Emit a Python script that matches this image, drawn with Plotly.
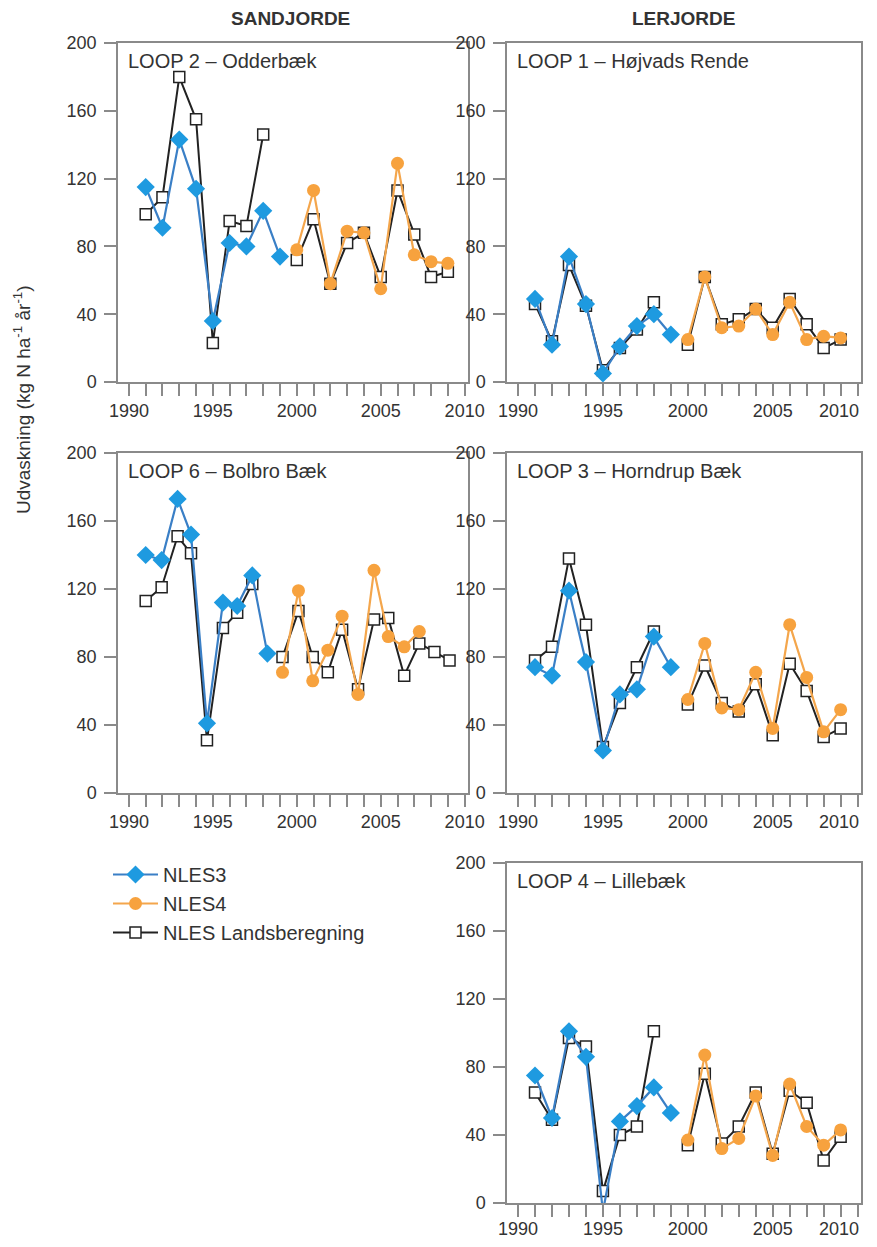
import plotly.graph_objects as go

# ---------------- data ----------------
years_nles3 = [1991, 1992, 1993, 1994, 1995, 1996, 1997, 1998, 1999]
years_nles4 = [2000, 2001, 2002, 2003, 2004, 2005, 2006, 2007, 2008, 2009]
years_lands = [1991, 1992, 1993, 1994, 1995, 1996, 1997, 1998, None,
               2000, 2001, 2002, 2003, 2004, 2005, 2006, 2007, 2008, 2009]

# Bolbro Bæk is drawn on a slightly compressed year spacing in the original
bolbro_x_nles3 = [1991.0, 1991.95, 1992.9, 1993.7, 1994.65, 1995.6, 1996.45, 1997.35, 1998.25]
bolbro_x_nles4 = [1999.15, 2000.1, 2000.95, 2001.85, 2002.7, 2003.65, 2004.6, 2005.45, 2006.4, 2007.3]
bolbro_x_lands = [1991.0, 1991.95, 1992.9, 1993.7, 1994.65, 1995.6, 1996.45, 1997.35, None,
                  1999.15, 2000.1, 2000.95, 2001.85, 2002.7, 2003.65, 2004.6, 2005.45,
                  2006.4, 2007.3, 2008.2, 2009.1]

odder_nles3 = [115, 91, 143, 114, 36, 82, 80, 101, 74]
odder_nles4 = [78, 113, 58, 89, 88, 55, 129, 75, 71, 70]
odder_lands = [99, 109, 180, 155, 23, 95, 92, 146, None, 72, 96, 58, 82, 88, 62, 113, 87, 62, 65]

hojvads_nles3 = [49, 22, 74, 46, 5, 21, 33, 40, 28]
hojvads_nles4 = [25, 62, 32, 33, 43, 28, 47, 25, 27, 26]
hojvads_lands = [46, 24, 69, 45, 7, 20, 31, 47, None, 22, 62, 34, 37, 43, 32, 49, 34, 20, 25]

bolbro_nles3 = [140, 137, 173, 152, 41, 112, 110, 128, 82]
bolbro_nles4 = [71, 119, 66, 84, 104, 58, 131, 92, 86, 95]
bolbro_lands = [113, 121, 151, 141, 31, 97, 106, 123, None,
                80, 107, 80, 71, 96, 61, 102, 103, 69, 88, 83, 78]

horndrup_nles3 = [74, 69, 119, 77, 25, 58, 61, 92, 74]
horndrup_nles4 = [55, 88, 50, 49, 71, 38, 99, 68, 36, 49]
horndrup_lands = [78, 86, 138, 99, 27, 53, 74, 95, None, 52, 75, 53, 48, 64, 34, 76, 60, 33, 38]

lille_nles3 = [75, 50, 101, 86, -5, 48, 57, 68, 53]
lille_nles4 = [37, 87, 32, 38, 63, 28, 70, 45, 34, 43]
lille_lands = [65, 49, 97, 92, 7, 40, 45, 101, None, 34, 76, 35, 45, 65, 29, 66, 59, 25, 39]

x_tick_years = [1990, 1995, 2000, 2005, 2010]
y_tick_values = [0, 40, 80, 120, 160, 200]

panel_titles = ["LOOP 2 – Odderbæk", "LOOP 1 – Højvads Rende", "LOOP 6 – Bolbro Bæk",
                "LOOP 3 – Horndrup Bæk", "LOOP 4 – Lillebæk"]
column_titles = ["SANDJORDE", "LERJORDE"]
series_names = ["NLES3", "NLES4", "NLES Landsberegning"]
y_title = "Udvaskning (kg N ha<sup>-1</sup> år<sup>-1</sup>)"

# ---------------- layout geometry ----------------
# page is 877x1247; the browser body has an 8px margin around the figure
PAGE_W, PAGE_H = 877, 1247
PAD = 8
W, H = PAGE_W - 2 * PAD, PAGE_H - 2 * PAD
def fx(px):
    return (px - PAD) / W
def fy(py):
    return 1 - (py - PAD) / H

col_x = [(118, 468), (507, 861)]
row_y = [(43, 382), (453, 793), (863, 1203)]
# (col, row) per panel
panel_pos = [(0, 0), (1, 0), (0, 1), (1, 1), (1, 2)]

panels = [
    (years_nles3, odder_nles3, years_nles4, odder_nles4, years_lands, odder_lands),
    (years_nles3, hojvads_nles3, years_nles4, hojvads_nles4, years_lands, hojvads_lands),
    (bolbro_x_nles3, bolbro_nles3, bolbro_x_nles4, bolbro_nles4, bolbro_x_lands, bolbro_lands),
    (years_nles3, horndrup_nles3, years_nles4, horndrup_nles4, years_lands, horndrup_lands),
    (years_nles3, lille_nles3, years_nles4, lille_nles4, years_lands, lille_lands),
]

BLUE_LINE = "#3a7fc6"
BLUE_FILL = "#1e9ae0"
ORANGE_LINE = "#f4a64c"
ORANGE_FILL = "#f7a23e"
BLACK = "#222222"
AXIS = "#8a8a8a"
TXT = "#333333"
FONT = "Liberation Sans, Arial, sans-serif"

fig = go.Figure()
layout = dict(
    width=W, height=H, margin=dict(l=0, r=0, t=0, b=0, autoexpand=False),
    paper_bgcolor="white", plot_bgcolor="white",
    font=dict(family=FONT, color=TXT),
    showlegend=True,
)

annotations = []
for i, (data, (c, r)) in enumerate(zip(panels, panel_pos)):
    n = i + 1
    xa = "x" if n == 1 else f"x{n}"
    ya = "y" if n == 1 else f"y{n}"
    x0, x1 = col_x[c]
    y0, y1 = row_y[r]
    common_ax = dict(showline=True, mirror=True, linecolor=AXIS, linewidth=1.5,
                     ticks="outside", ticklen=12, tickwidth=1.5, tickcolor=AXIS,
                     showgrid=False, zeroline=False, automargin=False,
                     ticklabeloverflow="allow",
                     tickfont=dict(size=18, color=TXT, family=FONT))
    x_standoff = -3 if r == 2 else 0
    # right-hand column: last year label would run past the page edge,
    # so it is drawn as a right-aligned annotation at the 2010 tick instead
    # (the tick mark itself comes from the yearly minor ticks)
    if c == 1:
        labelled_years = x_tick_years[:-1]
        annotations.append(dict(
            text=str(x_tick_years[-1]), xref=xa, yref=ya,
            x=x_tick_years[-1], y=0, xanchor="right", yanchor="middle",
            xshift=3, yshift=-29 - x_standoff, showarrow=False,
            font=dict(size=18, color=TXT, family=FONT)))
    else:
        labelled_years = x_tick_years
    layout["xaxis" if n == 1 else f"xaxis{n}"] = dict(
        domain=[fx(x0), fx(x1)], anchor=ya, range=[1989.35, 2010.2],
        tickmode="array", tickvals=labelled_years,
        ticktext=[str(v) for v in labelled_years],
        ticklabelstandoff=x_standoff,
        minor=dict(dtick=1, tick0=1990, ticks="outside", ticklen=12, tickwidth=1.5,
                   tickcolor=AXIS, showgrid=False),
        **common_ax)
    layout["yaxis" if n == 1 else f"yaxis{n}"] = dict(
        domain=[fy(y1), fy(y0)], anchor=xa, range=[0, 200],
        tickmode="array", tickvals=y_tick_values,
        ticklabelstandoff=4,
        **common_ax)

    x3, v3, x4, v4, xl, vl = data
    show = (n == 1)
    fig.add_trace(go.Scatter(
        x=xl, y=vl, mode="lines+markers", name=series_names[2], legendrank=3,
        line=dict(color=BLACK, width=2),
        marker=dict(symbol="square", size=11, color="white", line=dict(color=BLACK, width=1.5)),
        xaxis=xa, yaxis=ya, showlegend=show, cliponaxis=False))
    fig.add_trace(go.Scatter(
        x=x3, y=v3, mode="lines+markers", name=series_names[0], legendrank=1,
        line=dict(color=BLUE_LINE, width=2.2),
        marker=dict(symbol="diamond", size=14, color=BLUE_FILL, line=dict(width=0)),
        xaxis=xa, yaxis=ya, showlegend=show, cliponaxis=False))
    fig.add_trace(go.Scatter(
        x=x4, y=v4, mode="lines+markers", name=series_names[1], legendrank=2,
        line=dict(color=ORANGE_LINE, width=2.2),
        marker=dict(symbol="circle", size=13, color=ORANGE_FILL, line=dict(width=0)),
        xaxis=xa, yaxis=ya, showlegend=show, cliponaxis=False))

    annotations.append(dict(
        text=panel_titles[i], xref="paper", yref="paper",
        x=fx(x0 + 8), y=fy(y0 + 18), xanchor="left", yanchor="middle",
        showarrow=False, font=dict(size=20, color=TXT, family=FONT)))

annotations.append(dict(text="<b>" + column_titles[0] + "</b>", xref="paper", yref="paper",
                        x=fx(290), y=fy(18), xanchor="center", yanchor="middle",
                        showarrow=False, font=dict(size=19, color=TXT, family=FONT)))
annotations.append(dict(text="<b>" + column_titles[1] + "</b>", xref="paper", yref="paper",
                        x=fx(683), y=fy(18), xanchor="center", yanchor="middle",
                        showarrow=False, font=dict(size=19, color=TXT, family=FONT)))
annotations.append(dict(text=y_title, xref="paper", yref="paper",
                        x=fx(22), y=fy(400), xanchor="center", yanchor="middle",
                        textangle=-90, showarrow=False,
                        font=dict(size=19, color=TXT, family=FONT)))

layout["annotations"] = annotations
layout["legend"] = dict(x=fx(108), y=fy(855), xanchor="left", yanchor="top",
                        bgcolor="rgba(0,0,0,0)", traceorder="normal",
                        font=dict(size=20, color=TXT, family=FONT),
                        itemwidth=45, tracegroupgap=4)
fig.update_layout(**layout)
fig.write_html("out.html")
